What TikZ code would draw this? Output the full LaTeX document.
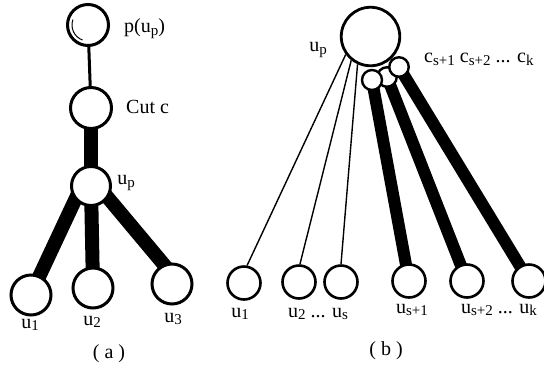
\documentclass[tikz,border=0pt]{standalone}
\usepackage{fontspec}
\setmainfont{Liberation Serif}
\pgfdeclarelayer{bg}
\pgfdeclarelayer{paper}
\pgfsetlayers{paper,bg,main}
% lowered, smaller index used in the vertex labels
\newcommand\lsub[1]{\raisebox{-0.3ex}{\fontsize{15pt}{15pt}\selectfont #1}}
\begin{document}
\begin{tikzpicture}[x=1pt,y=-1pt,
  vtx/.style={circle,draw,fill=white,inner sep=0pt,line width=3pt},
  bigvtx/.style={vtx,minimum size=40pt},
  leafb/.style={vtx,line width=2.6pt,minimum size=33pt},
  cutvtx/.style={vtx,line width=2.4pt,minimum size=19.5pt},
  lbl/.style={inner sep=0pt,font=\fontsize{20pt}{24pt}\selectfont},
  barA/.style={line width=14pt},
  barB/.style={line width=12pt},
  thinedge/.style={line width=1.4pt},
  linkedge/.style={line width=3pt}]
\begin{pgfonlayer}{paper}
  \fill[white] (0,0) rectangle (544,368);
\end{pgfonlayer}
\useasboundingbox (0,0) rectangle (544,368);

% ---------- (a) ----------
\node[bigvtx,minimum size=41pt] (pu)  at (88,25)  {};
% second stroke along the upper left of the top vertex
\draw[line width=1pt] (pu.center) ++(110:16) arc[start angle=110,end angle=200,radius=16];
\node[bigvtx,minimum size=41pt] (cut) at (91,108) {};
\node[bigvtx,minimum size=39pt] (upa) at (91,186) {};
\node[bigvtx] (a1) at (31,295)  {};
\node[bigvtx] (a2) at (93,288)  {};
\node[bigvtx] (a3) at (172,284) {};

\node[lbl,anchor=west] (lpu)  at (124,29)  {p(u\lsub{p})};
\node[lbl,anchor=west] (lcut) at (126,107) {Cut c};
\node[lbl] (lupa) at (126,183) {u\lsub{p}};
\node[lbl] (la1)  at (30,325)  {u\lsub{1}};
\node[lbl] (la2)  at (92,322)  {u\lsub{2}};
\node[lbl] (la3)  at (173,319) {u\lsub{3}};
\node[lbl] (capa) at (109,354) {( a )};

% ---------- (b) ----------
\node[vtx,line width=2.8pt,minimum size=58.5pt] (upb) at (370.5,36.5) {};
\node[cutvtx] (cs2) at (387,77) {};
\node[cutvtx,minimum size=20pt] (cs1) at (372,80) {};
\node[cutvtx] (ck)  at (399,67) {};
\node[leafb] (b1)  at (244,283) {};
\node[leafb] (b2)  at (299,282) {};
\node[leafb] (bs)  at (341,282) {};
\node[leafb] (bs1) at (409,281) {};
\node[leafb] (bs2) at (467,281) {};
\node[leafb] (bk)  at (529,281) {};

\node[lbl] (lupb) at (318,50) {u\lsub{p}};
\node[lbl,anchor=west] (lcs) at (424,59) {c\lsub{s+1} c\lsub{s+2} ... c\lsub{k}};
\node[lbl] (lb1)  at (240,314) {u\lsub{1}};
\node[lbl] (lb2)  at (318,314) {u\lsub{2} ... u\lsub{s}};
\node[lbl] (lbs1) at (412,310) {u\lsub{s+1}};
\node[lbl] (lbs2) at (499,310) {u\lsub{s+2} ... u\lsub{k}};
\node[lbl] (capb) at (386,351) {( b )};

% ---------- edges, kept under the vertices ----------
\begin{pgfonlayer}{bg}
  \draw[linkedge] (pu.center) -- (cut.center);
  \draw[barA] (cut.center) -- (upa.center);
  \draw[barA,shorten <=-6pt,shorten >=-8pt] (upa.221) -- (a1.66);
  \draw[barA] (upa.center) -- (a2.center);
  \draw[barA,shorten <=-6pt,shorten >=-8pt] (upa.325) -- (a3.113);

  \draw[thinedge] (upb.216) -- (b1.80);
  \draw[thinedge] (upb.231) -- (b2.87);
  \draw[thinedge] (upb.245) -- (bs.90);
  \draw[barB] (cs1.center) -- (bs1.center);
  \draw[barB] (cs2.center) -- (bs2.center);
  \draw[barB] (ck.center)  -- (bk.center);
\end{pgfonlayer}
\end{tikzpicture}
\end{document}
